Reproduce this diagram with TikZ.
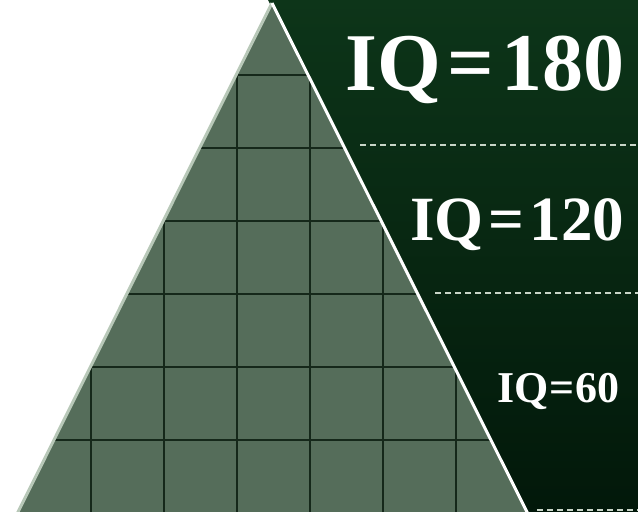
\documentclass[tikz,border=0pt]{standalone}
\usepackage{fontspec}
\setmainfont{Liberation Serif}
\definecolor{bgtop}{HTML}{0D3519}
\definecolor{bgbot}{HTML}{02180A}
\definecolor{trifill}{HTML}{556D5A}
\definecolor{gridc}{HTML}{15281A}
\definecolor{dashc}{HTML}{C9D6C8}
\definecolor{rimc}{HTML}{B8C8B8}
\tikzset{
  iq/.style={anchor=base west, inner sep=0pt, text=white, font=\bfseries},
  gridline/.style={draw=gridc, line width=2pt},
  sep/.style={draw=dashc, line width=1.6pt, dash pattern=on 6pt off 4pt},
}
\begin{document}
\begin{tikzpicture}[x=1pt,y=-1pt]
\useasboundingbox (0,0) rectangle (638,512);
\fill[white] (0,0) rectangle (638,512);
% dark background right of the pyramid
\shade[top color=bgtop, bottom color=bgbot] (268,0) -- (638,0) -- (638,512) -- (528,512) -- cycle;
% pyramid
\coordinate (apex) at (272,3);
\coordinate (bl) at (17,514);
\coordinate (br) at (528,514);
\fill[trifill, rounded corners=7pt] (bl) -- (apex) -- (br) -- cycle;
\begin{scope}
  \clip[rounded corners=7pt] (bl) -- (apex) -- (br) -- cycle;
  \foreach \x in {91,164,237,310,383,456} \draw[gridline] (\x,0) -- (\x,512);
  \foreach \y in {75,148,221,294,367,440} \draw[gridline] (0,\y) -- (638,\y);
\end{scope}
\draw[rimc, line width=3pt, rounded corners=7pt] (bl) -- (apex);
\draw[white, line width=3pt, rounded corners=7pt] (apex) -- (br);
% separators
\coordinate (s1a) at (360,145); \coordinate (s1b) at (638,145);
\coordinate (s2a) at (435,293); \coordinate (s2b) at (638,293);
\coordinate (s3a) at (537,510); \coordinate (s3b) at (638,510);
\draw[sep] (s1a) -- (s1b);
\draw[sep] (s2a) -- (s2b);
\draw[sep] (s3a) -- (s3b);
% labels
\node[iq, font=\bfseries\fontsize{82}{82}\selectfont] (t180) at (345,90) {IQ\kern7pt=\kern7pt180};
\node[iq, font=\bfseries\fontsize{63}{63}\selectfont] (t120) at (410,240) {IQ\kern5pt=\kern5pt120};
\node[iq, font=\bfseries\fontsize{44}{44}\selectfont] (t60) at (497,402) {IQ\kern1pt=\kern1pt60};
\end{tikzpicture}
\end{document}
